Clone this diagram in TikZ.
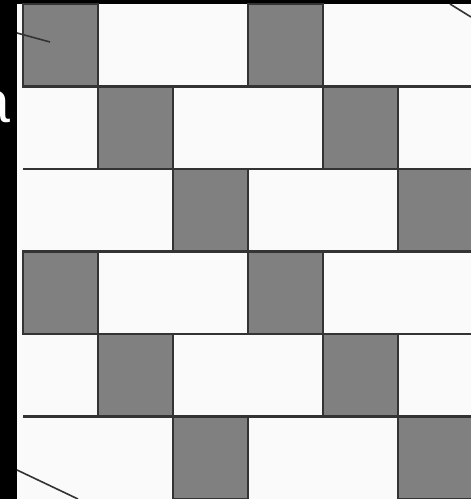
\documentclass[tikz,border=0pt]{standalone}
\usepackage{fontspec}
\setmainfont{Liberation Sans}
\usetikzlibrary{positioning}
\definecolor{tileGray}{HTML}{808080}
\definecolor{edgeGray}{HTML}{333333}
\definecolor{paper}{HTML}{FAFAFA}

\begin{document}
\begin{tikzpicture}[
x=0.5mm, y=-0.5mm,
graysq/.style={
draw=edgeGray,
fill=tileGray,
line width=1.1mm
},
tileline/.style={draw=edgeGray, line width=1.1mm},
cutline/.style={draw=edgeGray, line width=0.8mm}
]

\useasboundingbox (0,0) rectangle (471,499);
\clip (0,0) rectangle (471,499);

% background
\fill[black] (0,0) rectangle (471,499);
\fill[paper] (17,4) rectangle (471,499);

% rows of tiles
\foreach \r in {0,...,5} {
  \pgfmathsetmacro{\yt}{4+82.5*\r}
  \pgfmathsetmacro{\xs}{23+75*mod(\r,3)}
  \foreach \k in {0,1,2} {
    \draw[graysq] ({\xs+225*\k},\yt) rectangle ++(75,82.5);
  }
}
\foreach \r in {1,...,5} {
  \draw[tileline] (23,{4+82.5*\r}) -- (471,{4+82.5*\r});
}

% cut marks
\draw[cutline] (17,33) -- (50,42);
\draw[cutline] (17,470) -- (78,499);
\draw[cutline] (450,4) -- (471,17);

\node[anchor=base east, inner sep=0pt, text=white,
      font=\fontsize{84}{84}\selectfont] (lbl) at (10,122) {a};

\end{tikzpicture}
\end{document}
